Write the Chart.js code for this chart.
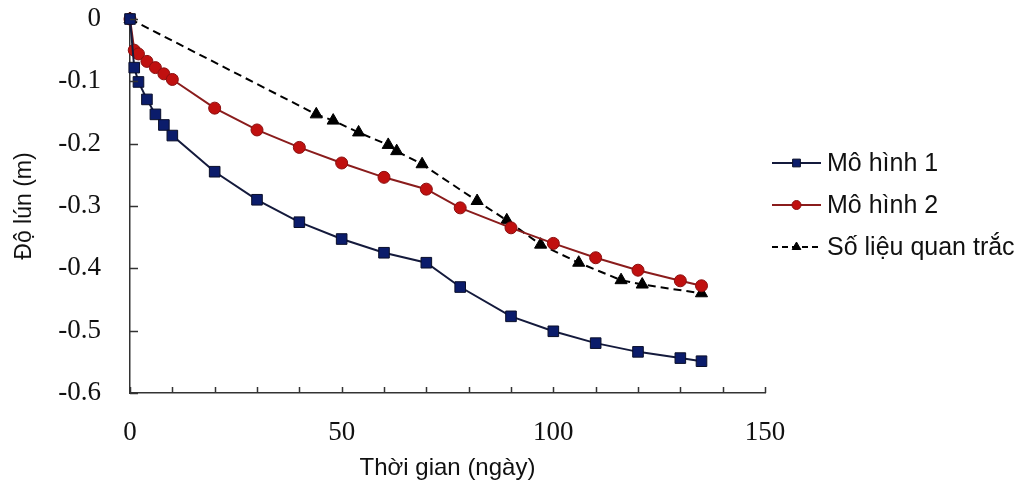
<!DOCTYPE html>
<html><head><meta charset="utf-8">
<script src="https://cdn.jsdelivr.net/npm/chart.js@4/dist/chart.umd.min.js"></script>
<style>html,body{margin:0;padding:0;background:#fff}#wrap{width:1026px;height:493px}</style>
</head><body><div id="wrap"><canvas id="c" width="1026" height="493"></canvas></div>
<script>
const modelDays = [0,1,2,4,6,8,10,20,30,40,50,60,70,78,90,100,110,120,130,135];
const model1 = [0,-0.078,-0.101,-0.129,-0.153,-0.170,-0.187,-0.245,-0.290,-0.326,-0.353,-0.375,-0.391,-0.430,-0.477,-0.501,-0.520,-0.534,-0.544,-0.549];
const model2 = [0,-0.050,-0.056,-0.068,-0.078,-0.088,-0.097,-0.143,-0.178,-0.206,-0.231,-0.254,-0.273,-0.303,-0.335,-0.360,-0.383,-0.403,-0.420,-0.428];
const obsDays = [0,44,48,54,61,63,69,82,89,97,106,116,121,135];
const observed = [0,-0.153,-0.163,-0.182,-0.202,-0.212,-0.233,-0.292,-0.323,-0.362,-0.391,-0.419,-0.426,-0.440];
const seriesNames = ['Mô hình 1','Mô hình 2','Số liệu quan trắc'];
const xTitle = 'Thời gian (ngày)';
const yTitle = 'Độ lún (m)';

const pts = (xs, ys) => xs.map((x,i)=>({x:x, y:ys[i]}));

const innerTicks = {
  id:'innerTicks',
  afterDraw(chart){
    const ctx = chart.ctx, xs = chart.scales.x, ys = chart.scales.y;
    ctx.save();
    ctx.strokeStyle = '#333'; ctx.lineWidth = 1.5;
    for (let v = xs.min; v <= xs.max + 1e-9; v += 10) {
      const px = Math.round(xs.getPixelForValue(v)) + 0.5;
      ctx.beginPath(); ctx.moveTo(px, ys.bottom); ctx.lineTo(px, ys.bottom - 6); ctx.stroke();
    }
    ys.ticks.forEach(t => {
      const py = Math.round(ys.getPixelForValue(t.value)) + 0.5;
      ctx.beginPath(); ctx.moveTo(xs.left, py); ctx.lineTo(xs.left + 8, py); ctx.stroke();
    });
    ctx.restore();
  }
};

const customLegend = {
  id:'customLegend',
  afterDraw(chart){
    const ctx = chart.ctx, area = chart.chartArea;
    const x0 = area.right + 7, x1 = area.right + 56, tx = area.right + 62;
    const y0 = area.top + 144, gap = 42;
    ctx.save();
    chart.data.datasets.forEach((ds, i) => {
      const y = y0 + i*gap;
      ctx.strokeStyle = ds.borderColor; ctx.lineWidth = 2;
      ctx.setLineDash(ds.borderDash ? [6,4] : []);
      ctx.beginPath(); ctx.moveTo(x0, y); ctx.lineTo(x1, y); ctx.stroke();
      ctx.setLineDash([]);
      ctx.fillStyle = ds.pointBackgroundColor; ctx.strokeStyle = ds.pointBorderColor;
      ctx.lineWidth = 1;
      Chart.helpers.drawPoint(ctx, {pointStyle: ds.pointStyle, radius: ds.legendRadius, rotation: 0, borderWidth: 1}, (x0+x1)/2, y);
      ctx.fillStyle = '#111';
      ctx.font = '25px "Liberation Sans", Arial, sans-serif';
      ctx.textBaseline = 'middle'; ctx.textAlign = 'left';
      ctx.fillText(ds.label, tx, y + 1);
    });
    ctx.restore();
  }
};

new Chart(document.getElementById('c'), {
  type: 'scatter',
  data: {
    datasets: [
      { label: seriesNames[0], data: pts(modelDays, model1), showLine: true, clip: false,
        borderColor: '#141a3c', borderWidth: 2, pointStyle: 'rect', pointRadius: 7.5,
        pointBackgroundColor: '#0b1c6b', pointBorderColor: '#0a0f2a', pointBorderWidth: 1, legendRadius: 5.5 },
      { label: seriesNames[1], data: pts(modelDays, model2), showLine: true, clip: false,
        borderColor: '#8a1c1c', borderWidth: 2, pointStyle: 'circle', pointRadius: 6,
        pointBackgroundColor: '#c0100f', pointBorderColor: '#8a0f0f', pointBorderWidth: 1, legendRadius: 4.5 },
      { label: seriesNames[2], data: pts(obsDays, observed), showLine: true, clip: false,
        borderColor: '#000', borderWidth: 2, borderDash: [8,5], pointStyle: 'triangle', pointRadius: 7,
        pointBackgroundColor: '#000', pointBorderColor: '#000', pointBorderWidth: 1, legendRadius: 5 }
    ]
  },
  options: {
    responsive: false, animation: false, events: [],
    layout: { padding: { top: 19, right: 261, left: 0, bottom: 0 } },
    plugins: { legend: { display: false }, tooltip: { enabled: false } },
    scales: {
      x: { type: 'linear', min: 0, max: 150,
        ticks: { stepSize: 50, color: '#111', padding: 24, maxRotation: 0,
          font: { family: '"Liberation Serif", "Times New Roman", serif', size: 27 } },
        grid: { display: true, drawOnChartArea: false, drawTicks: false },
        border: { display: true, color: '#333', width: 1.5 },
        title: { display: true, text: xTitle, color: '#111', padding: { top: 0, bottom: 10 },
          font: { family: '"Liberation Sans", Arial, sans-serif', size: 24 } },
        afterFit(s){ s.height = 100; s.paddingLeft = 0; s.paddingRight = 0; }
      },
      y: { type: 'linear', min: -0.6, max: 0,
        ticks: { stepSize: 0.1, color: '#111', padding: 29,
          font: { family: '"Liberation Serif", "Times New Roman", serif', size: 27 } },
        grid: { display: true, drawOnChartArea: false, drawTicks: false },
        border: { display: true, color: '#333', width: 1.5 },
        title: { display: true, text: yTitle, color: '#111', padding: { top: 11, bottom: 0 },
          font: { family: '"Liberation Sans", Arial, sans-serif', size: 23 } },
        afterFit(s){ s.width = 130; s.paddingTop = 0; s.paddingBottom = 0; }
      }
    }
  },
  plugins: [innerTicks, customLegend]
});
</script>
</body></html>
